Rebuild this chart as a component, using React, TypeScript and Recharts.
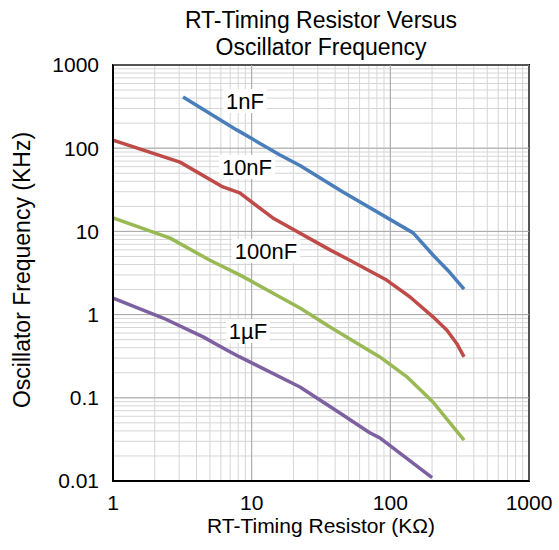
import { LineChart, Line, XAxis, YAxis, CartesianGrid, ReferenceLine, ReferenceArea, ReferenceDot, Label } from 'recharts';

// RT resistor (kOhm) vs oscillator frequency (kHz), one array per timing capacitor
const nF1 = [
  { r: 3.2, f: 412 },
  { r: 7.8, f: 166 },
  { r: 16, f: 83 },
  { r: 22.3, f: 62 },
  { r: 45.5, f: 29.8 },
  { r: 146, f: 9.6 },
  { r: 203, f: 5.2 },
  { r: 269, f: 3.2 },
  { r: 340, f: 2.03 },
];

const nF10 = [
  { r: 1, f: 125 },
  { r: 3.04, f: 68 },
  { r: 6.2, f: 34.2 },
  { r: 8.2, f: 29 },
  { r: 14.2, f: 14.5 },
  { r: 36.7, f: 6.0 },
  { r: 51, f: 4.5 },
  { r: 94, f: 2.6 },
  { r: 138, f: 1.64 },
  { r: 203, f: 0.94 },
  { r: 256, f: 0.65 },
  { r: 301, f: 0.45 },
  { r: 340, f: 0.31 },
];

const nF100 = [
  { r: 1, f: 14.5 },
  { r: 2.58, f: 8.3 },
  { r: 5, f: 4.5 },
  { r: 8.2, f: 3.0 },
  { r: 22.3, f: 1.2 },
  { r: 36.7, f: 0.71 },
  { r: 84, f: 0.31 },
  { r: 131, f: 0.18 },
  { r: 203, f: 0.089 },
  { r: 283, f: 0.045 },
  { r: 340, f: 0.031 },
];

const uF1 = [
  { r: 1, f: 1.58 },
  { r: 2.3, f: 0.91 },
  { r: 4.46, f: 0.54 },
  { r: 6.6, f: 0.376 },
  { r: 8.2, f: 0.31 },
  { r: 22.3, f: 0.135 },
  { r: 43, f: 0.066 },
  { r: 71, f: 0.038 },
  { r: 84, f: 0.033 },
  { r: 200, f: 0.011 },
];

const xDecades = [1, 10, 100, 1000];
const yDecades = [0.01, 0.1, 1, 10, 100, 1000];
const xTickLabels = ['1', '10', '100', '1000'];
const yTickLabels = ['0.01', '0.1', '1', '10', '100', '1000'];

// curve tags, placed in data units
const tags = [
  { text: '1nF', r: 8.95, f: 369 },
  { text: '10nF', r: 9.25, f: 59.4 },
  { text: '100nF', r: 12.7, f: 5.8 },
  { text: '1µF', r: 9.4, f: 0.635 },
];

const FONT = '"Liberation Sans", Arial, sans-serif';

function logTicks(decades: number[]) {
  const out: number[] = [];
  decades.forEach((d, i) => {
    out.push(d);
    if (i < decades.length - 1) {
      for (let k = 2; k <= 9; k++) out.push(d * k);
    }
  });
  return out;
}

function decadeLabel(v: number, decades: number[], labels: string[]) {
  const i = decades.findIndex((d) => Math.abs(v - d) / d < 1e-6);
  return i >= 0 ? labels[i] : '';
}

function Tag(props: any) {
  const { cx, cy, text } = props;
  const w = text.length * 12.5 + 6;
  return (
    <g>
      <rect x={cx - w / 2} y={cy - 12} width={w} height={24} fill="#fff" />
      <text x={cx} y={cy + 8} textAnchor="middle" fontSize={22} fontFamily={FONT} fill="#000">
        {text}
      </text>
    </g>
  );
}

export default function App() {
  const xTicks = logTicks(xDecades);
  const yTicks = logTicks(yDecades);
  return (
    <div style={{ position: 'absolute', left: 0, top: 0, width: 559, height: 550, background: '#fff' }}>
      <div
        style={{
          position: 'absolute',
          left: 113,
          top: 7,
          width: 416,
          textAlign: 'center',
          fontFamily: FONT,
          fontSize: 23,
          lineHeight: '27px',
          color: '#000',
        }}
      >
        RT-Timing Resistor Versus
        <br />
        Oscillator Frequency
      </div>
      <LineChart width={559} height={550} margin={{ top: 65, right: 30, bottom: 9, left: 53 }}>
        <CartesianGrid stroke="#d6d6d6" strokeWidth={1} />
        <XAxis
          dataKey="r"
          type="number"
          scale="log"
          domain={[1, 1000]}
          allowDataOverflow
          ticks={xTicks}
          interval={0}
          height={60}
          tickLine={false}
          tickSize={0}
          tickMargin={14}
          axisLine={{ stroke: '#000', strokeWidth: 2 }}
          tick={{ fontSize: 21, fontFamily: FONT, fill: '#000' }}
          tickFormatter={(v: number) => decadeLabel(v, xDecades, xTickLabels)}
        >
          <Label
            value={'RT-Timing Resistor (KΩ)'}
            position="insideBottom"
            offset={8}
            style={{ fontSize: 21, fontFamily: FONT, fill: '#000' }}
          />
        </XAxis>
        <YAxis
          type="number"
          scale="log"
          domain={[0.01, 1000]}
          allowDataOverflow
          ticks={yTicks}
          interval={0}
          width={60}
          tickLine={false}
          tickSize={0}
          tickMargin={14}
          axisLine={{ stroke: '#000', strokeWidth: 2 }}
          tick={{ fontSize: 21, fontFamily: FONT, fill: '#000' }}
          tickFormatter={(v: number) => decadeLabel(v, yDecades, yTickLabels)}
        >
          <Label
            content={() => (
              <text
                transform="translate(30,270) rotate(-90)"
                textAnchor="middle"
                fontSize={23}
                fontFamily={FONT}
                fill="#000"
              >
                Oscillator Frequency (KHz)
              </text>
            )}
          />
        </YAxis>
        {xDecades.map((d) => (
          <ReferenceLine key={'x' + d} x={d} stroke="#a8a8a8" strokeWidth={1} />
        ))}
        {yDecades.map((d) => (
          <ReferenceLine key={'y' + d} y={d} stroke="#a8a8a8" strokeWidth={1} />
        ))}
        <Line data={nF1} dataKey="f" type="linear" stroke="#4a7ebb" strokeWidth={3.5} strokeLinejoin="round" dot={false} isAnimationActive={false} />
        <Line data={nF10} dataKey="f" type="linear" stroke="#be4b48" strokeWidth={3.5} strokeLinejoin="round" dot={false} isAnimationActive={false} />
        <Line data={nF100} dataKey="f" type="linear" stroke="#98b954" strokeWidth={3.5} strokeLinejoin="round" dot={false} isAnimationActive={false} />
        <Line data={uF1} dataKey="f" type="linear" stroke="#7d60a0" strokeWidth={3.5} strokeLinejoin="round" dot={false} isAnimationActive={false} />
        {tags.map((t) => (
          <ReferenceDot key={t.text} x={t.r} y={t.f} r={0} shape={(p: any) => <Tag {...p} text={t.text} />} />
        ))}
        <ReferenceArea x1={1} x2={1000} y1={0.01} y2={1000} fill="none" stroke="#000" strokeWidth={2} />
      </LineChart>
    </div>
  );
}
